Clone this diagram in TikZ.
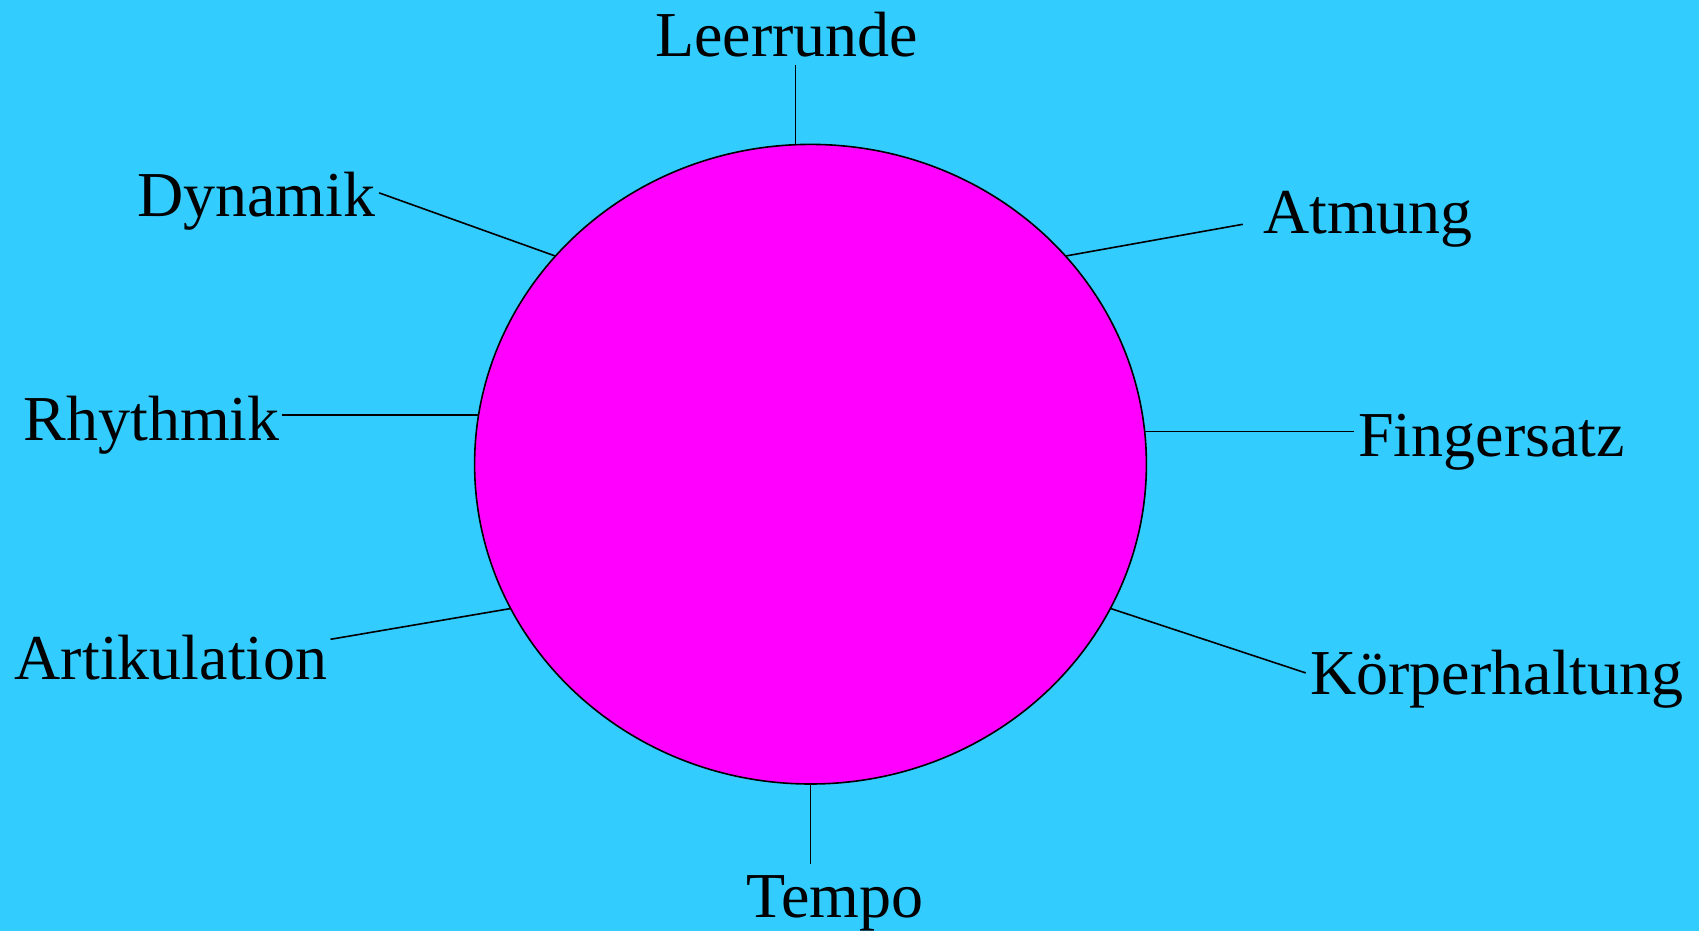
\documentclass[tikz,border=0pt]{standalone}
\usepackage{fontspec}
\setmainfont{Liberation Serif}
\definecolor{bgblue}{RGB}{51,204,255}
\definecolor{mag}{RGB}{255,0,255}
\begin{document}
\begin{tikzpicture}[x=1pt,y=-1pt,
  lbl/.style={anchor=base,inner sep=0pt,font=\fontsize{64}{70}\selectfont},
  conn/.style={draw=black,line width=1.6pt}]
\useasboundingbox (0,0) rectangle (1699,931);
\fill[bgblue] (0,0) rectangle (1699,931);
% labels
\node[lbl] (leer) at (786.6,56.3) {Leerrunde};
\node[lbl] (dyn) at (256.3,216.7) {Dynamik};
\node[lbl] (atm) at (1368,233) {Atmung};
\node[lbl] (rhy) at (151.7,440) {Rhythmik};
\node[lbl] (fin) at (1491.5,456) {Fingersatz};
\node[lbl] (art) at (171.2,679) {Artikulation};
\node[lbl] (koe) at (1497,694.6) {Körperhaltung};
\node[lbl] (tem) at (834.9,917.5) {Tempo};
% connector end points
\coordinate (leerA) at (795.3,65);   \coordinate (leerB) at (795.3,150);
\coordinate (dynA) at (379.2,192.9); \coordinate (dynB) at (558,257);
\coordinate (atmA) at (1242.8,224.3);\coordinate (atmB) at (1064,256.3);
\coordinate (rhyA) at (281.7,415);   \coordinate (rhyB) at (482,415);
\coordinate (finA) at (1354.4,431.3);\coordinate (finB) at (1140,431.3);
\coordinate (artA) at (330.5,639.3); \coordinate (artB) at (512,608.3);
\coordinate (koeA) at (1305.7,672.9);\coordinate (koeB) at (1110,608.3);
\coordinate (temA) at (810.5,864);   \coordinate (temB) at (810.5,778);
\draw[conn] (leerA) -- (leerB);
\draw[conn] (dynA) -- (dynB);
\draw[conn] (atmA) -- (atmB);
\draw[conn] (rhyA) -- (rhyB);
\draw[conn] (finA) -- (finB);
\draw[conn] (artA) -- (artB);
\draw[conn] (koeA) -- (koeB);
\draw[conn] (temA) -- (temB);
% central ellipse
\draw[fill=mag,line width=1.6pt] (810.5,464.2) ellipse [x radius=335.9, y radius=319.8];
\node[minimum width=671.8pt,minimum height=639.6pt,inner sep=0pt] (c) at (810.5,464.2) {};
\end{tikzpicture}
\end{document}
